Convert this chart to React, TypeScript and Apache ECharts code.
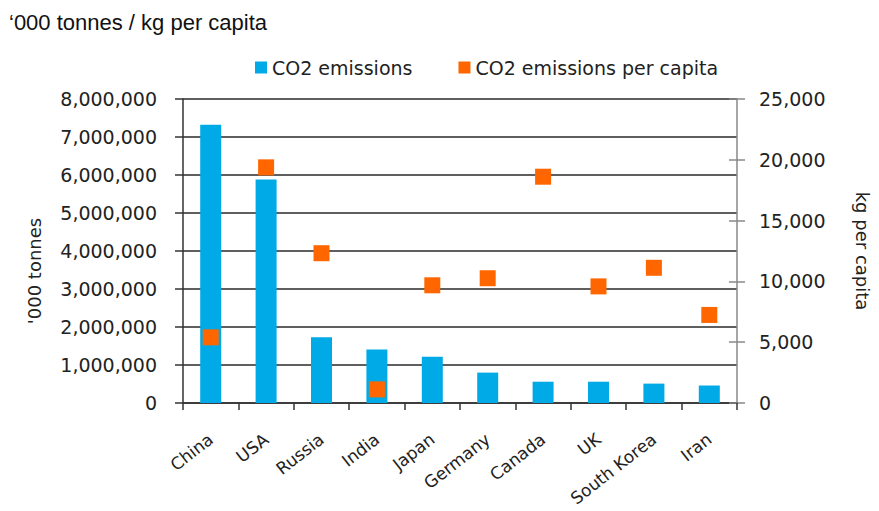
import React, { useEffect, useRef } from "react";
import * as echarts from "echarts";

const countries = ["China", "USA", "Russia", "India", "Japan", "Germany", "Canada", "UK", "South Korea", "Iran"];
const emissions = [7320000, 5880000, 1730000, 1410000, 1220000, 800000, 560000, 560000, 510000, 460000];
const perCapita = [5400, 19380, 12320, 1120, 9680, 10260, 18610, 9590, 11120, 7240];
const leftTicks = { min: 0, max: 8000000, interval: 1000000 };
const rightTicks = { min: 0, max: 25000, interval: 5000 };

const FONT = "DejaVu Sans";
const fmt = (v: number) => v.toLocaleString("en-US");

export default function App() {
  const ref = useRef<HTMLDivElement>(null);
  useEffect(() => {
    const chart = echarts.init(ref.current!, null, { renderer: "svg" });
    chart.setOption({
      animation: false,
      backgroundColor: "#ffffff",
      title: {
        text: "\u2018000 tonnes / kg per capita",
        left: 4,
        top: 6,
        textStyle: { fontFamily: "Liberation Sans", fontSize: 22, fontWeight: "normal", color: "#111" },
      },
      legend: {
        left: 250,
        top: 53,
        icon: "rect",
        itemWidth: 12,
        itemHeight: 12,
        itemGap: 46,
        textStyle: { fontFamily: FONT, fontSize: 19, color: "#222" },
        data: ["CO2 emissions", "CO2 emissions per capita"],
      },
      grid: { left: 183, right: 138, top: 99, bottom: 108 },
      xAxis: {
        type: "category",
        data: countries,
        boundaryGap: true,
        axisLine: { lineStyle: { color: "#333", width: 1.5 } },
        axisTick: { show: true, length: 7, lineStyle: { color: "#333", width: 1.5 } },
        axisLabel: { rotate: 38, margin: 34, fontFamily: FONT, fontSize: 17, color: "#222" },
      },
      yAxis: [
        {
          type: "value",
          position: "left",
          min: leftTicks.min,
          max: leftTicks.max,
          interval: leftTicks.interval,
          name: "'000 tonnes",
          nameLocation: "middle",
          nameGap: 140,
          nameRotate: 90,
          nameTextStyle: { fontFamily: FONT, fontSize: 18, color: "#222", padding: [0, 40, 0, 0] },
          axisLine: { show: true, lineStyle: { color: "#333", width: 1.5 } },
          axisTick: { show: true, length: 8, lineStyle: { color: "#333", width: 1.5 } },
          axisLabel: { margin: 26, fontFamily: FONT, fontSize: 19, color: "#222", formatter: fmt },
          splitLine: { show: true, lineStyle: { color: "#2a2a2a", width: 1.6 } },
        },
        {
          type: "value",
          position: "right",
          min: rightTicks.min,
          max: rightTicks.max,
          interval: rightTicks.interval,
          name: "kg per capita",
          nameLocation: "middle",
          nameGap: 116,
          nameRotate: -90,
          nameTextStyle: { fontFamily: FONT, fontSize: 18, color: "#222" },
          axisLine: { show: true, lineStyle: { color: "#888", width: 1.5 } },
          axisTick: { show: true, length: 8, lineStyle: { color: "#888", width: 1.5 } },
          axisLabel: { margin: 22, fontFamily: FONT, fontSize: 19, color: "#222", formatter: fmt },
          splitLine: { show: false },
        },
        {
          type: "value",
          position: "right",
          min: rightTicks.min,
          max: rightTicks.max,
          interval: rightTicks.interval,
          axisLine: { show: false },
          axisTick: { show: true, inside: true, length: 8, lineStyle: { color: "#888", width: 1.5 } },
          axisLabel: { show: false },
          splitLine: { show: false },
        },
      ],
      series: [
        {
          name: "CO2 emissions",
          type: "bar",
          yAxisIndex: 0,
          barWidth: 21,
          itemStyle: { color: "#00AAE6" },
          data: emissions,
          z: 2,
        },
        {
          name: "CO2 emissions per capita",
          type: "scatter",
          yAxisIndex: 1,
          symbol: "rect",
          symbolSize: 16,
          itemStyle: { color: "#FF6600", opacity: 1 },
          data: perCapita,
          z: 3,
        },
      ],
    });
    return () => chart.dispose();
  }, []);
  return (
    <div
      ref={ref}
      style={{ position: "fixed", left: 0, top: 0, width: 879, height: 511, background: "#fff" }}
    />
  );
}
